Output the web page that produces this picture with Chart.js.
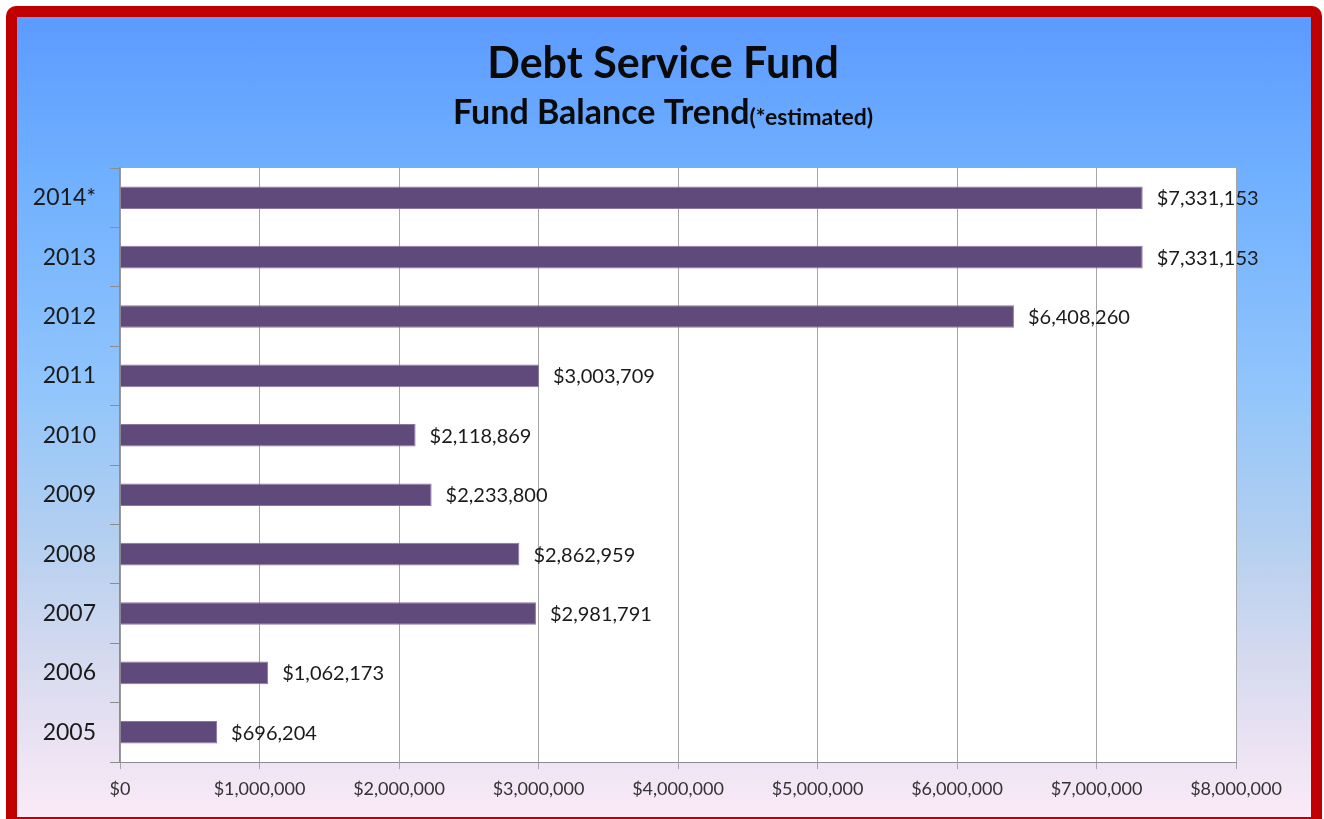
<!DOCTYPE html>
<html>
<head>
<meta charset="utf-8">
<title>Debt Service Fund</title>
<script src="https://cdn.jsdelivr.net/npm/chart.js@4/dist/chart.umd.min.js"></script>
<style>
  html, body { margin: 0; padding: 0; background: #ffffff; overflow: hidden; }
  #wrap { position: relative; width: 1324px; height: 819px; }
  #frame {
    position: absolute; left: 6px; top: 6px; width: 1316px; height: 822px;
    box-sizing: border-box; border: 11px solid #c00000; border-radius: 10px;
    background: linear-gradient(to bottom, #5c9bff 0%, #70b0ff 20%, #8fc4fc 45%, #b3cff0 65%, #d9dbef 82%, #fbeaf7 100%);
  }
  #chart { position: absolute; left: 0; top: 0; }
</style>
</head>
<body>
<div id="wrap">
  <div id="frame"></div>
  <canvas id="chart" width="1324" height="819"></canvas>
</div>
<script>
// fund balance by year, oldest first
const years = ['2005', '2006', '2007', '2008', '2009', '2010', '2011', '2012', '2013', '2014*'];
const fund_balance = [696204, 1062173, 2981791, 2862959, 2233800, 2118869, 3003709, 6408260, 7331153, 7331153];

const chart_title = 'Debt Service Fund';
const chart_subtitle = 'Fund Balance Trend';
const chart_note = '(*estimated)';

const FONT = 'Lato, "Open Sans", sans-serif';

function dollars(v) {
  return '$' + Number(v).toLocaleString('en-US');
}

// white plot area on top of the page gradient
const plotBackground = {
  id: 'plotBackground',
  beforeDraw(chart) {
    const a = chart.chartArea;
    const ctx = chart.ctx;
    ctx.save();
    ctx.fillStyle = '#ffffff';
    ctx.fillRect(a.left, a.top, a.right - a.left, a.bottom - a.top);
    ctx.restore();
  }
};

// headings drawn by hand so the note can be smaller than the subtitle
const headingPlugin = {
  id: 'heading',
  afterDraw(chart) {
    const ctx = chart.ctx;
    const cx = chart.width / 2 + 1;
    ctx.save();
    ctx.fillStyle = '#0a0a0a';
    ctx.textBaseline = 'alphabetic';
    ctx.textAlign = 'center';
    ctx.font = 'bold 43px ' + FONT;
    ctx.fillText(chart_title, cx, 78);

    ctx.font = 'bold 34px ' + FONT;
    const w1 = ctx.measureText(chart_subtitle).width;
    ctx.font = 'bold 23px ' + FONT;
    const w2 = ctx.measureText(chart_note).width;
    const start = cx - (w1 + w2) / 2;
    ctx.textAlign = 'left';
    ctx.font = 'bold 34px ' + FONT;
    ctx.fillText(chart_subtitle, start, 124);
    ctx.font = 'bold 23px ' + FONT;
    ctx.fillText(chart_note, start + w1, 125);
    ctx.restore();
  }
};

// value next to the end of each bar
const barLabelPlugin = {
  id: 'barLabels',
  afterDatasetsDraw(chart) {
    const ctx = chart.ctx;
    const meta = chart.getDatasetMeta(0);
    ctx.save();
    ctx.font = '20px ' + FONT;
    ctx.fillStyle = '#1a1a1a';
    ctx.textAlign = 'left';
    ctx.textBaseline = 'middle';
    meta.data.forEach(function(bar, i) {
      ctx.fillText(dollars(fund_balance[i]), bar.x + 14, bar.y + 1);
    });
    ctx.restore();
  }
};

new Chart(
  document.getElementById('chart'),
  {
    type: 'bar',
    data: {
      labels: years,
      datasets: [
        {
          label: 'Fund Balance',
          data: fund_balance,
          backgroundColor: '#604a7b',
          borderColor: '#8a76a3',
          borderWidth: 1,
          categoryPercentage: 1,
          barPercentage: 0.38
        }
      ]
    },
    options: {
      indexAxis: 'y',
      responsive: false,
      animation: false,
      layout: {
        padding: { top: 168, right: 88, bottom: 0, left: 0 }
      },
      plugins: {
        legend: { display: false },
        title: { display: false },
        tooltip: { enabled: false }
      },
      scales: {
        x: {
          min: 0,
          max: 8000000,
          afterFit: function(scale) { scale.height = 57; },
          ticks: {
            stepSize: 1000000,
            callback: function(v) { return dollars(v); },
            color: '#333333',
            font: { family: FONT, size: 18 },
            padding: 9
          },
          grid: {
            color: '#a6a6a6',
            lineWidth: 1,
            tickLength: 7
          },
          border: { color: '#8c8c8c', width: 1 }
        },
        y: {
          reverse: true,
          afterFit: function(scale) { scale.width = 120; },
          ticks: {
            color: '#1a1a1a',
            font: { family: FONT, size: 23 },
            padding: 14
          },
          grid: {
            drawOnChartArea: false,
            offset: true,
            color: '#8c8c8c',
            tickLength: 10
          },
          border: { color: '#8c8c8c', width: 1.5 }
        }
      }
    },
    plugins: [plotBackground, headingPlugin, barLabelPlugin]
  }
);
</script>
</body>
</html>
